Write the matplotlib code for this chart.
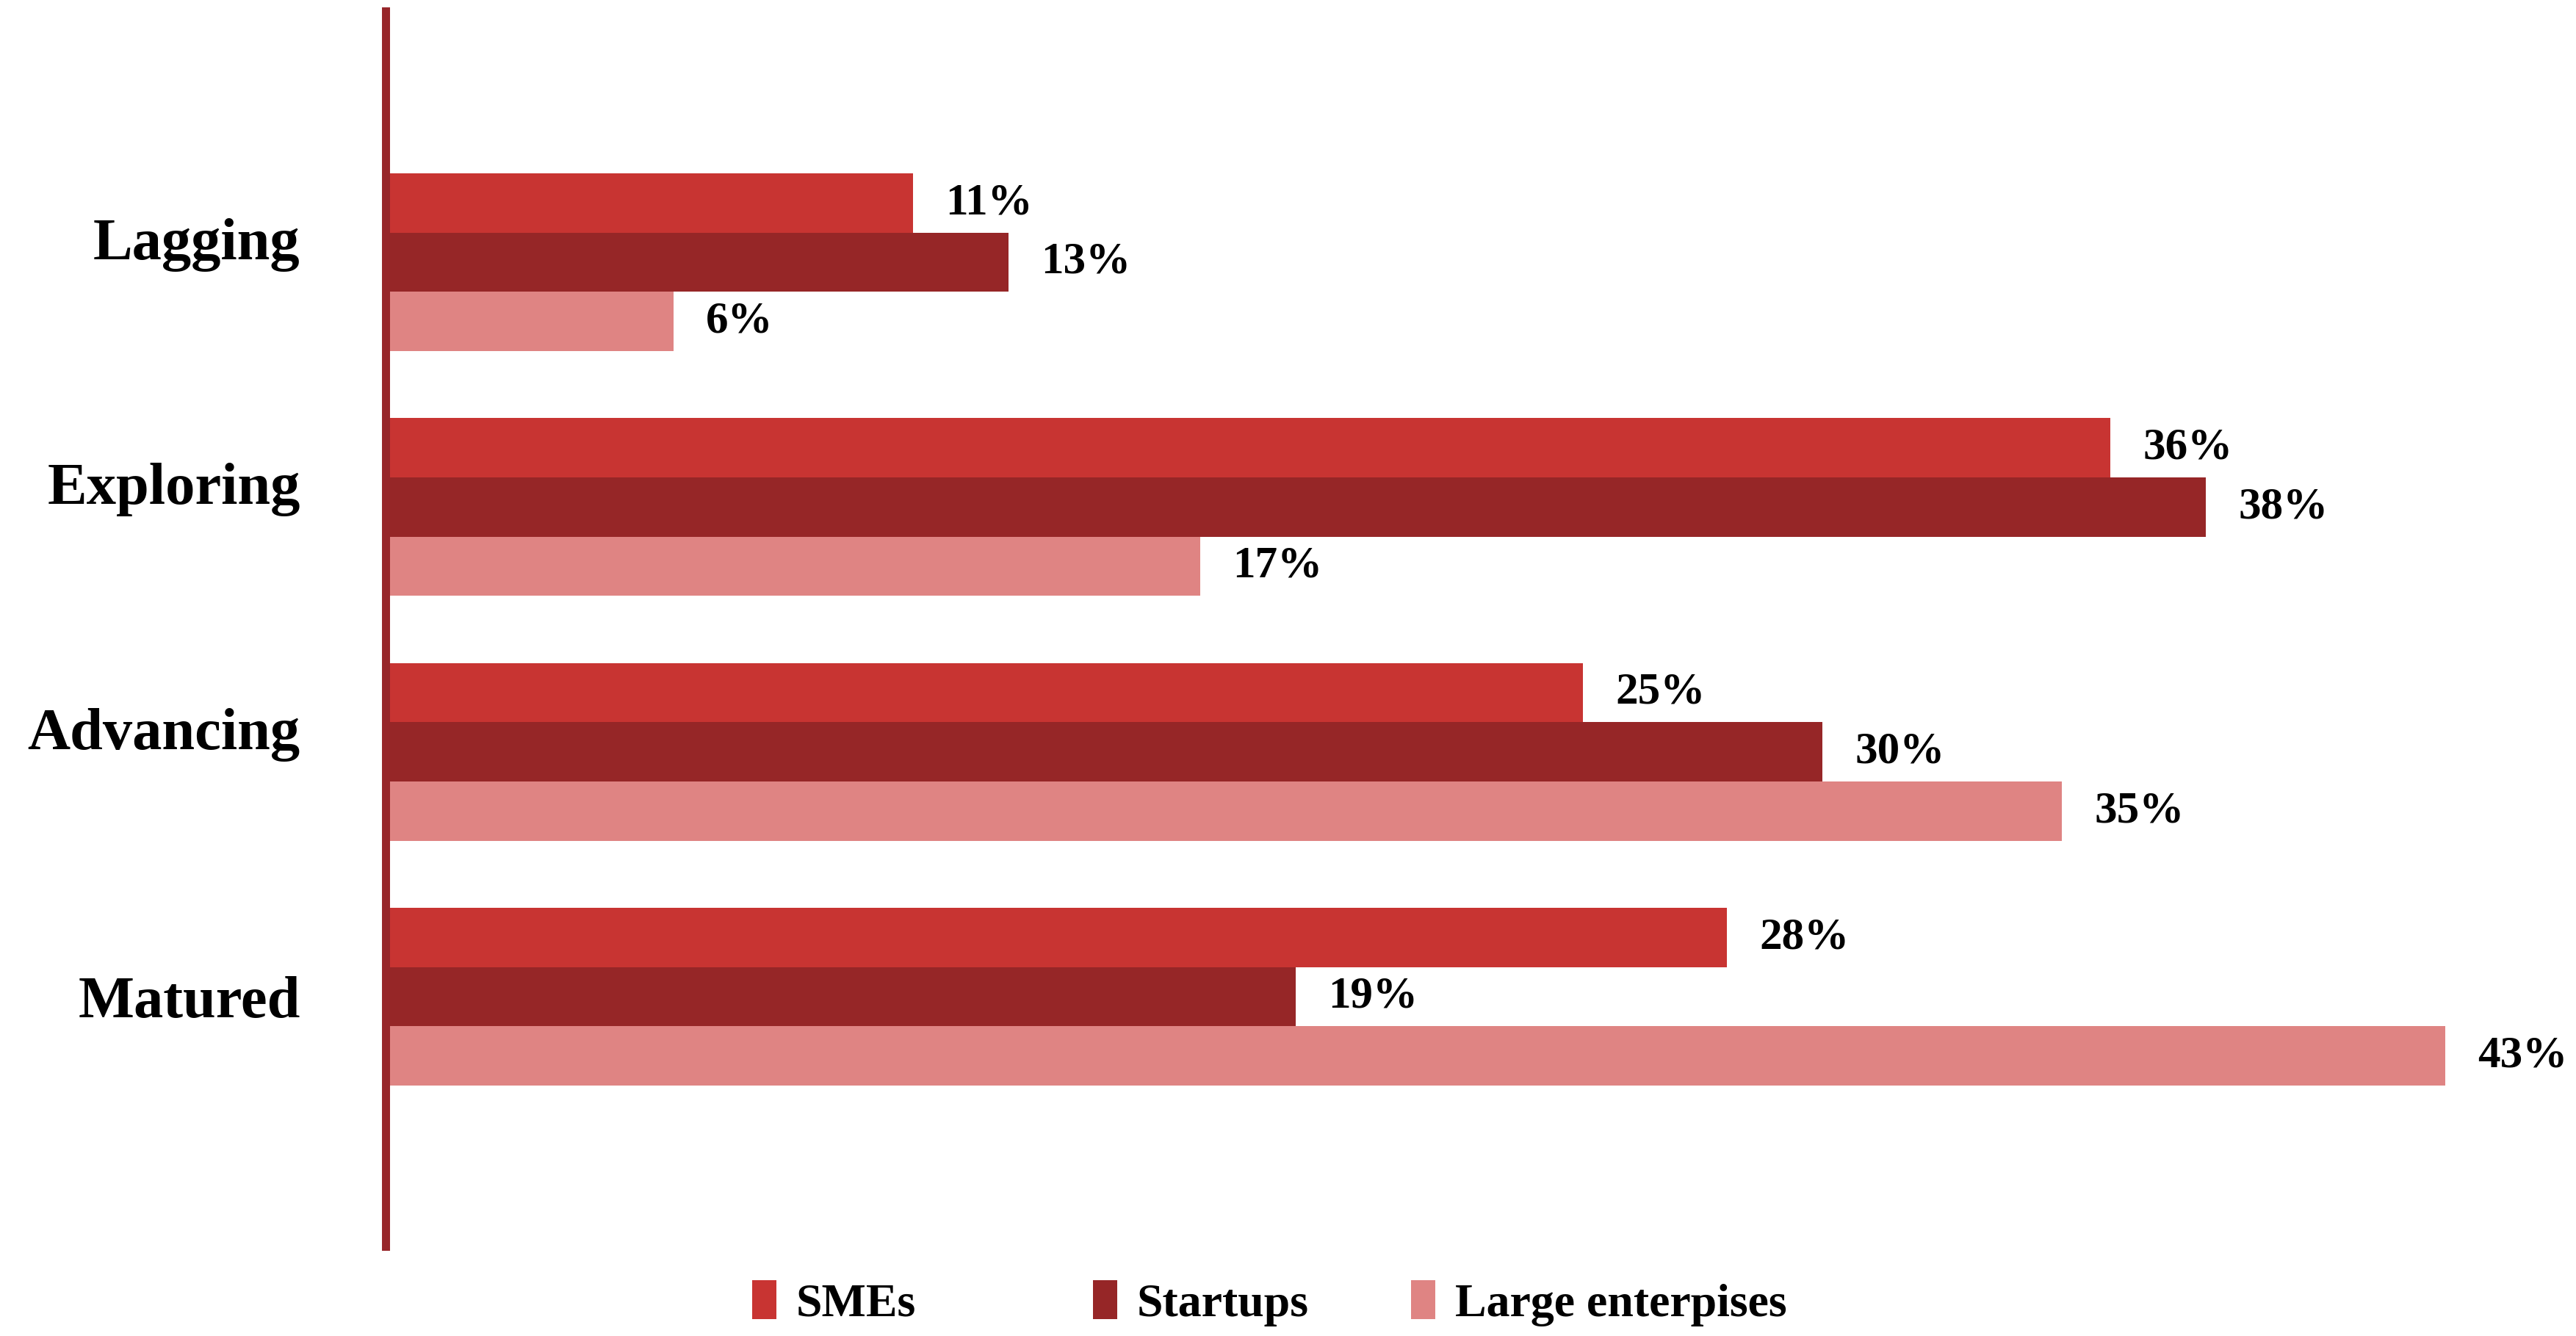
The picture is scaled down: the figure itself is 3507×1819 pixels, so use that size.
import matplotlib
matplotlib.use("Agg")
import matplotlib.pyplot as plt
from matplotlib.patches import Patch
from matplotlib.transforms import ScaledTranslation
import numpy as np

# ---- data ----
categories = ["Lagging", "Exploring", "Advancing", "Matured"]
series_names = ["SMEs", "Startups", "Large enterpises"]
smes = [11, 36, 25, 28]
startups = [13, 38, 30, 19]
large = [6, 17, 35, 43]
colors = ["#C83432", "#962627", "#DF8483"]
axis_color = "#97262A"

plt.rcParams['font.family'] = ['Liberation Serif', 'DejaVu Serif']

fig = plt.figure(figsize=(35.07, 18.19), dpi=100)
left, bottom, top = 0.1498, 0.0671, 0.9918
ax = fig.add_axes([left, bottom, 1 - left, top - bottom])

y = np.arange(len(categories))
h = 0.242
for i, (vals, col) in enumerate(zip([smes, startups, large], colors)):
    bars = ax.barh(y + (i - 1) * h, vals, height=h, color=col,
                   label=series_names[i], zorder=2)
    for b, v in zip(bars, vals):
        ax.annotate(f"{v}%", xy=(b.get_width(), b.get_y() + b.get_height() / 2),
                    xytext=(32, 0), textcoords='offset points',
                    va='center', ha='left', fontsize=44, fontweight='bold')

ax.set_xlim(0, 45.73)
ax.set_ylim(4.02, -1.026)

for s in ["top", "right", "bottom"]:
    ax.spines[s].set_visible(False)
ax.spines["left"].set_color(axis_color)
ax.spines["left"].set_linewidth(7.9)
ax.spines["left"].set_zorder(3)

ax.set_xticks([])
ax.set_yticks(y)
ax.set_yticklabels(categories, fontsize=58, fontweight='bold')
ax.tick_params(axis='y', length=0, pad=84)
# the reference centres labels on their ink, so words with descenders sit higher
for lab in ax.get_yticklabels():
    if any(c in lab.get_text() for c in "gpqyj"):
        lab.set_transform(lab.get_transform() +
                          ScaledTranslation(0, 23 / 72, fig.dpi_scale_trans))
ax.set_facecolor('white')

# legend: one entry per legend, positioned like the reference
leg_x = [0.2920, 0.4243, 0.5478]
leg_y = 0.0245
for name, col, lx in zip(series_names, colors, leg_x):
    fig.legend(handles=[Patch(facecolor=col, edgecolor='none')], labels=[name],
               loc='center left', bbox_to_anchor=(lx, leg_y), frameon=False,
               prop={'weight': 'bold', 'size': 46},
               handlelength=0.52, handleheight=0.9, handletextpad=0.41,
               borderpad=0, borderaxespad=0)

fig.savefig("out.png", dpi=100, facecolor='white')
